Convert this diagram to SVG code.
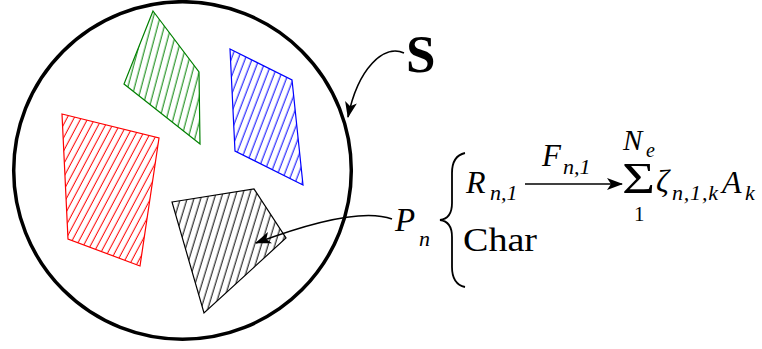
<svg xmlns="http://www.w3.org/2000/svg" width="762" height="349" viewBox="0 0 762 349">
<style>
.poly{stroke-width:1.2;stroke-linejoin:miter}
.conn{fill:none;stroke:#000;stroke-width:1.6}
</style>
<defs>
<pattern id="hRed" width="6.2" height="10" patternUnits="userSpaceOnUse" patternTransform="rotate(28)"><line x1="3" y1="0" x2="3" y2="10" stroke="#ff0000" stroke-width="1"/></pattern>
<pattern id="hGreen" width="6.5" height="10" patternUnits="userSpaceOnUse" patternTransform="rotate(15)"><line x1="3" y1="0" x2="3" y2="10" stroke="#008000" stroke-width="1"/></pattern>
<pattern id="hBlue" width="6.5" height="10" patternUnits="userSpaceOnUse" patternTransform="rotate(21)"><line x1="3" y1="0" x2="3" y2="10" stroke="#0000ff" stroke-width="1"/></pattern>
<pattern id="hBlack" width="6.5" height="10" patternUnits="userSpaceOnUse" patternTransform="rotate(17)"><line x1="3" y1="0" x2="3" y2="10" stroke="#000" stroke-width="1"/></pattern>
<marker id="stealth" viewBox="0 0 16 12" refX="15" refY="6" markerWidth="16" markerHeight="12" markerUnits="userSpaceOnUse" orient="auto">
<path d="M0,0 L16,6 L0,12 L4,6 Z" fill="#000"/>
</marker>
</defs>
<g id="set-S">
<circle cx="182.5" cy="170.5" r="168.8" fill="none" stroke="#000" stroke-width="3.5"/>
</g>
<g id="poly-green"><polygon class="poly" points="153,11 199,72 200,144 124,84" fill="url(#hGreen)" stroke="#008000"/></g>
<g id="poly-blue"><polygon class="poly" points="230,49 292,80 303,185 235,151" fill="url(#hBlue)" stroke="#0000ff"/></g>
<g id="poly-red"><polygon class="poly" points="62,114 159,138 140,266 68,239" fill="url(#hRed)" stroke="#ff0000"/></g>
<g id="poly-Pn"><polygon class="poly" points="172,202 254,189 286,238 204,313" fill="url(#hBlack)" stroke="#000"/></g>
<g fill="#000" font-family="'Liberation Serif', 'DejaVu Serif', serif">
<g id="label-S"><text x="406" y="72" font-weight="bold" font-size="53">S</text></g>
<g id="label-Pn" font-style="italic"><text x="395" y="231" font-size="33">P</text><text x="419" y="246" font-size="22">n</text></g>
<g id="label-R" font-style="italic"><text x="466" y="193" font-size="32">R</text><text x="490" y="200" font-size="22">n,1</text></g>
<g id="label-Char"><text x="463" y="251" font-size="33" textLength="74" lengthAdjust="spacingAndGlyphs">Char</text></g>
<g id="label-F" font-style="italic"><text x="542" y="166" font-size="31">F</text><text x="563" y="174" font-size="22">n,1</text></g>
<g id="label-sum">
<text x="623" y="150" font-style="italic" font-size="29">N</text><text x="646" y="157" font-style="italic" font-size="20">e</text>
<text x="622" y="193" font-size="44" textLength="33" lengthAdjust="spacingAndGlyphs">Σ</text>
<text x="634" y="221" font-size="21">1</text>
<text x="656" y="192" font-style="italic" font-size="32">ζ</text><text x="672" y="200" font-style="italic" font-size="22" textLength="46" lengthAdjust="spacing">n,1,k</text>
<text x="722" y="193" font-style="italic" font-size="32">A</text><text x="745" y="200" font-style="italic" font-size="22">k</text>
</g>
</g>
<g id="brace"><path d="M465,153 C456,155 452,161 452,173 L452,203 C452,214 448,219 440,220 C448,221 452,226 452,237 L452,267 C452,279 456,285 465,287" fill="none" stroke="#000" stroke-width="1.8"/></g>
<g id="connectors">
<path class="conn" d="M404,53 C384,44 358,68 348,117" marker-end="url(#stealth)"/>
<path class="conn" d="M392,219 C368,210 320,219 256,243" marker-end="url(#stealth)"/>
<line class="conn" x1="525" y1="184" x2="622" y2="184" marker-end="url(#stealth)"/>
</g>
</svg>
